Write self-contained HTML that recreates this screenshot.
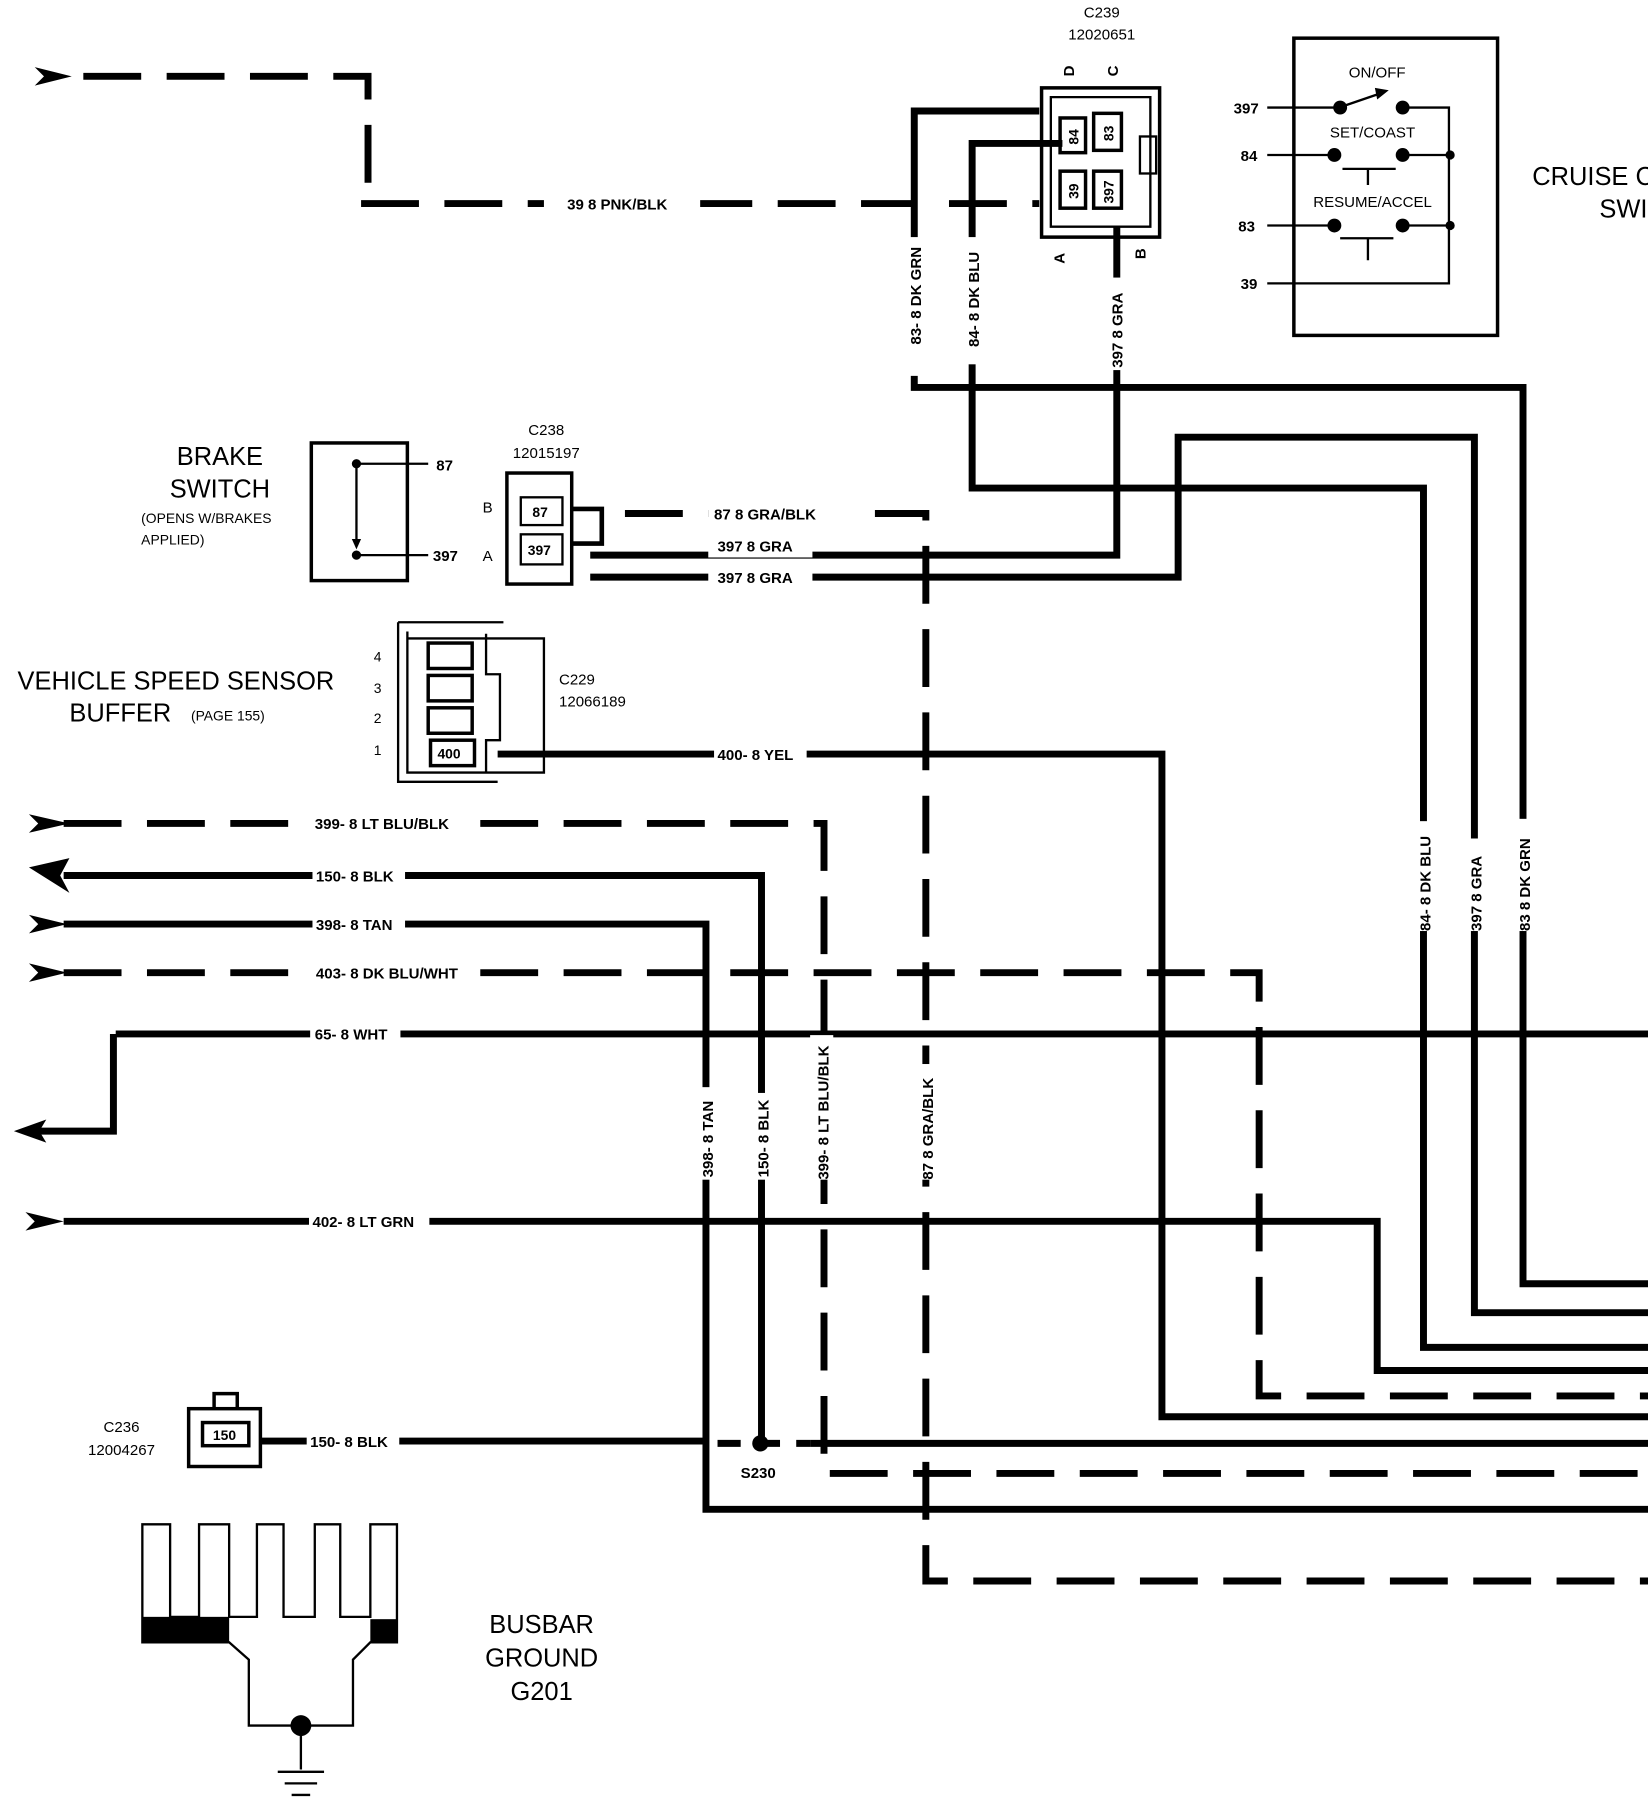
<!DOCTYPE html>
<html><head><style>html,body{margin:0;padding:0;background:#fff}svg{display:block}</style></head><body>
<svg width="1648" height="1810" viewBox="0 0 1424 1565" preserveAspectRatio="none" xmlns="http://www.w3.org/2000/svg" font-family="Liberation Sans, Arial, sans-serif">
<rect width="1424" height="1565" fill="#fff"/>
<g fill="none" stroke="#000" stroke-width="6">
<!-- dashed lines -->
<g stroke-dasharray="50,22">
<path d="M72 66 H318 V176 M312 176 H790"/>
<path d="M820 176 H898"/>
<path d="M540 444 H800 V1367 H1424"/>
<path d="M55 712 H712 V1274 H1424"/>
<path d="M55 841 H1088 V1207 H1424"/>
</g>
<!-- solid wires -->
<path d="M898 96 H790 V335 H1316 V1110 H1424"/>
<path d="M918 124 H840 V422 H1230 V1165 H1424"/>
<path d="M965 195 V480 H510"/>
<path d="M510 499 H1018 V378 H1274 V1135 H1424"/>
<path d="M430 652 H1004 V1225 H1424"/>
<path d="M55 757 H658 V1248"/>
<path d="M55 799 H610 V1305 H1424"/>
<path d="M100 894 H1424 M98 894 V978 H30"/>
<path d="M55 1056 H1190 V1185 H1424"/>
<path d="M225 1246 H610 M700 1248 H1424"/>
<path d="M620 1248 H700" stroke-dasharray="20,14"/>
</g>
<!-- arrowheads -->
<g fill="#000">
<path d="M30 58 L62 66 L30 74 L38 66Z"/>
<path d="M25 704 L60 712 L25 720 L33 712Z"/>
<path d="M25 750 L60 742 L52 757 L60 772Z" transform="translate(0,0)"/>
<path d="M25 791 L58 799 L25 807 L33 799Z"/>
<path d="M25 833 L58 841 L25 849 L33 841Z"/>
<path d="M12 978 L40 968 L34 978 L40 988Z"/>
<path d="M22 1048 L55 1056 L22 1064 L30 1056Z"/>
<circle cx="657" cy="1248" r="7"/>
</g>
<!-- wire labels -->
<g font-size="13" font-weight="bold" fill="#000">
<rect x="470" y="166" width="135" height="20" fill="#fff"/><text x="490" y="181">39  8 PNK/BLK</text>
<rect x="612" y="434" width="130" height="20" fill="#fff"/><text x="617" y="449">87  8 GRA/BLK</text>
<rect x="612" y="462" width="90" height="20" fill="#fff"/><text x="620" y="477">397  8 GRA</text>
<rect x="612" y="489" width="90" height="20" fill="#fff"/><text x="620" y="504">397  8 GRA</text>
<rect x="617" y="642" width="80" height="20" fill="#fff"/><text x="620" y="657">400- 8 YEL</text>
<rect x="268" y="702" width="140" height="20" fill="#fff"/><text x="272" y="717">399- 8 LT BLU/BLK</text>
<rect x="270" y="747" width="80" height="20" fill="#fff"/><text x="273" y="762">150- 8 BLK</text>
<rect x="270" y="789" width="80" height="20" fill="#fff"/><text x="273" y="804">398- 8 TAN</text>
<rect x="268" y="831" width="145" height="20" fill="#fff"/><text x="273" y="846">403- 8 DK BLU/WHT</text>
<rect x="268" y="884" width="78" height="20" fill="#fff"/><text x="272" y="899">65- 8 WHT</text>
<rect x="267" y="1046" width="104" height="20" fill="#fff"/><text x="270" y="1061">402- 8 LT GRN</text>
<rect x="265" y="1236" width="80" height="20" fill="#fff"/><text x="268" y="1251">150- 8 BLK</text>
<g>
<rect x="780" y="205" width="20" height="120" fill="#fff"/><text transform="translate(796,298) rotate(-90)">83- 8 DK GRN</text>
<rect x="830" y="205" width="20" height="110" fill="#fff"/><text transform="translate(846,300) rotate(-90)">84- 8 DK BLU</text>
<rect x="955" y="240" width="20" height="80" fill="#fff"/><text transform="translate(970,318) rotate(-90)">397  8 GRA</text>
<rect x="1220" y="710" width="20" height="95" fill="#fff"/><text transform="translate(1236,805) rotate(-90)">84- 8 DK BLU</text>
<rect x="1264" y="725" width="20" height="80" fill="#fff"/><text transform="translate(1280,805) rotate(-90)">397  8 GRA</text>
<rect x="1306" y="708" width="20" height="97" fill="#fff"/><text transform="translate(1322,805) rotate(-90)">83  8 DK GRN</text>
<rect x="600" y="940" width="20" height="80" fill="#fff"/><text transform="translate(616,1018) rotate(-90)">398- 8 TAN</text>
<rect x="648" y="945" width="20" height="75" fill="#fff"/><text transform="translate(664,1018) rotate(-90)">150- 8 BLK</text>
<rect x="700" y="895" width="20" height="125" fill="#fff"/><text transform="translate(716,1020) rotate(-90)">399- 8 LT BLU/BLK</text>
<rect x="790" y="920" width="20" height="100" fill="#fff"/><text transform="translate(806,1020) rotate(-90)">87  8 GRA/BLK</text>
</g>
<text x="640" y="1278">S230</text>
</g>
<!-- C239 -->
<g fill="#000" font-size="13" font-weight="bold">
<text x="952" y="15" text-anchor="middle" font-weight="normal">C239</text>
<text x="952" y="34" text-anchor="middle" font-weight="normal">12020651</text>
<text transform="translate(928,66) rotate(-90)">D</text>
<text transform="translate(966,66) rotate(-90)">C</text>
<text transform="translate(920,228) rotate(-90)">A</text>
<text transform="translate(990,224) rotate(-90)">B</text>
</g>
<g fill="none" stroke="#000" stroke-width="3">
<path d="M900 76 H1002 V205 H900 Z"/>
<path d="M908 84 H994 V196 H908 Z" stroke-width="2"/>
<rect x="916" y="102" width="22" height="30"/><rect x="945" y="98" width="24" height="32"/>
<rect x="916" y="148" width="22" height="32"/><rect x="945" y="148" width="24" height="32"/>
<rect x="985" y="118" width="14" height="32" stroke-width="2"/>
</g>
<g font-size="12" font-weight="bold">
<text transform="translate(932,125) rotate(-90)">84</text><text transform="translate(962,122) rotate(-90)">83</text>
<text transform="translate(932,172) rotate(-90)">39</text><text transform="translate(962,176) rotate(-90)">397</text>
</g>
<!-- Cruise switch -->
<g stroke="#000" fill="none" stroke-width="2">
<rect x="1118" y="33" width="176" height="257" stroke-width="3"/>
<path d="M1095 93 H1155 M1212 93 H1252 V245 H1095 M1095 134 H1153 M1212 134 H1255 M1095 195 H1153 M1212 195 H1255"/>
<path d="M1160 92 L1195 80" /><path d="M1160 146 H1206 M1182 146 V160 M1158 206 H1204 M1182 206 V225"/>
</g>
<g fill="#000">
<circle cx="1158" cy="93" r="6"/><circle cx="1212" cy="93" r="6"/><circle cx="1153" cy="134" r="6"/><circle cx="1212" cy="134" r="6"/>
<circle cx="1153" cy="195" r="6"/><circle cx="1212" cy="195" r="6"/><circle cx="1253" cy="134" r="4"/><circle cx="1253" cy="195" r="4"/>
<path d="M1188 76 L1200 78 L1190 86Z"/>
</g>
<g font-size="13" font-weight="bold">
<text x="1190" y="67" text-anchor="middle" font-weight="normal">ON/OFF</text>
<text x="1186" y="119" text-anchor="middle" font-weight="normal">SET/COAST</text>
<text x="1186" y="179" text-anchor="middle" font-weight="normal">RESUME/ACCEL</text>
<text x="1066" y="98">397</text><text x="1072" y="139">84</text><text x="1070" y="200">83</text><text x="1072" y="250">39</text>
</g>
<text x="1324" y="160" font-size="22">CRUISE C</text>
<text x="1382" y="188" font-size="22">SWI</text>
<!-- Brake switch -->
<text x="190" y="402" font-size="22" text-anchor="middle">BRAKE</text>
<text x="190" y="430" font-size="22" text-anchor="middle">SWITCH</text>
<text x="122" y="452" font-size="12">(OPENS W/BRAKES</text>
<text x="122" y="471" font-size="12">APPLIED)</text>
<rect x="269" y="383" width="83" height="119" fill="none" stroke="#000" stroke-width="3"/>
<path d="M308 401 H370 M308 480 H370 M308 401 V470" stroke="#000" stroke-width="2"/>
<path d="M304 466 L312 466 L308 475Z"/><circle cx="308" cy="401" r="4"/><circle cx="308" cy="480" r="4"/>
<text x="377" y="407" font-size="13" font-weight="bold">87</text><text x="374" y="485" font-size="13" font-weight="bold">397</text>
<!-- C238 top -->
<text x="472" y="376" font-size="13" text-anchor="middle">C238</text>
<text x="472" y="396" font-size="13" text-anchor="middle">12015197</text>
<text x="417" y="443" font-size="13">B</text><text x="417" y="485" font-size="13">A</text>
<g fill="none" stroke="#000" stroke-width="3">
<rect x="438" y="409" width="56" height="96"/>
<rect x="450" y="430" width="36" height="24" stroke-width="2"/><rect x="450" y="462" width="36" height="26" stroke-width="2"/>
<path d="M494 440 H520 V470 H494" stroke-width="4"/>
</g>
<text x="460" y="447" font-size="12" font-weight="bold">87</text><text x="456" y="480" font-size="12" font-weight="bold">397</text>
<!-- VSS buffer -->
<text x="152" y="596" font-size="22" text-anchor="middle">VEHICLE SPEED SENSOR</text>
<text x="60" y="624" font-size="22">BUFFER</text><text x="165" y="623" font-size="12">(PAGE 155)</text>
<text x="483" y="592" font-size="13">C229</text><text x="483" y="611" font-size="13">12066189</text>
<g font-size="12"><text x="323" y="572">4</text><text x="323" y="599">3</text><text x="323" y="625">2</text><text x="323" y="653">1</text></g>
<g fill="none" stroke="#000" stroke-width="3">
<path d="M344 538 H435 M344 538 V676 H430 M352 546 V668 H470 V552 H352" stroke-width="2"/>
<rect x="370" y="556" width="38" height="22"/><rect x="370" y="584" width="38" height="22"/><rect x="370" y="612" width="38" height="22"/><rect x="372" y="640" width="38" height="22"/>
<path d="M420 548 V583 H432 V640 H420 V668" stroke-width="2"/>
</g>
<text x="378" y="656" font-size="12" font-weight="bold">400</text>
<!-- C236 bottom -->
<text x="105" y="1238" font-size="13" text-anchor="middle">C236</text>
<text x="105" y="1258" font-size="13" text-anchor="middle">12004267</text>
<g fill="none" stroke="#000" stroke-width="3">
<rect x="163" y="1218" width="62" height="50"/><rect x="175" y="1230" width="40" height="20"/><path d="M185 1218 V1205 H205 V1218"/>
</g>
<text x="184" y="1245" font-size="12" font-weight="bold">150</text>
<!-- Busbar ground -->
<g fill="none" stroke="#000" stroke-width="2">
<path d="M123 1318 V1420 H198 L215 1435 V1492 H305 V1435 L320 1420 H343 V1318 H320 V1398 H294 V1318 H272 V1398 H245 V1318 H222 V1398 H198 V1318 H172 V1398 H147 V1318 Z"/>
<path d="M260 1492 V1530 M240 1532 H280 M246 1542 H274 M252 1552 H268"/>
</g>
<rect x="123" y="1398" width="75" height="22" fill="#000"/><rect x="320" y="1400" width="23" height="20" fill="#000"/>
<circle cx="260" cy="1492" r="9" fill="#000"/>
<text x="468" y="1412" font-size="22" text-anchor="middle">BUSBAR</text>
<text x="468" y="1441" font-size="22" text-anchor="middle">GROUND</text>
<text x="468" y="1470" font-size="22" text-anchor="middle">G201</text>
</svg>
</body></html>
